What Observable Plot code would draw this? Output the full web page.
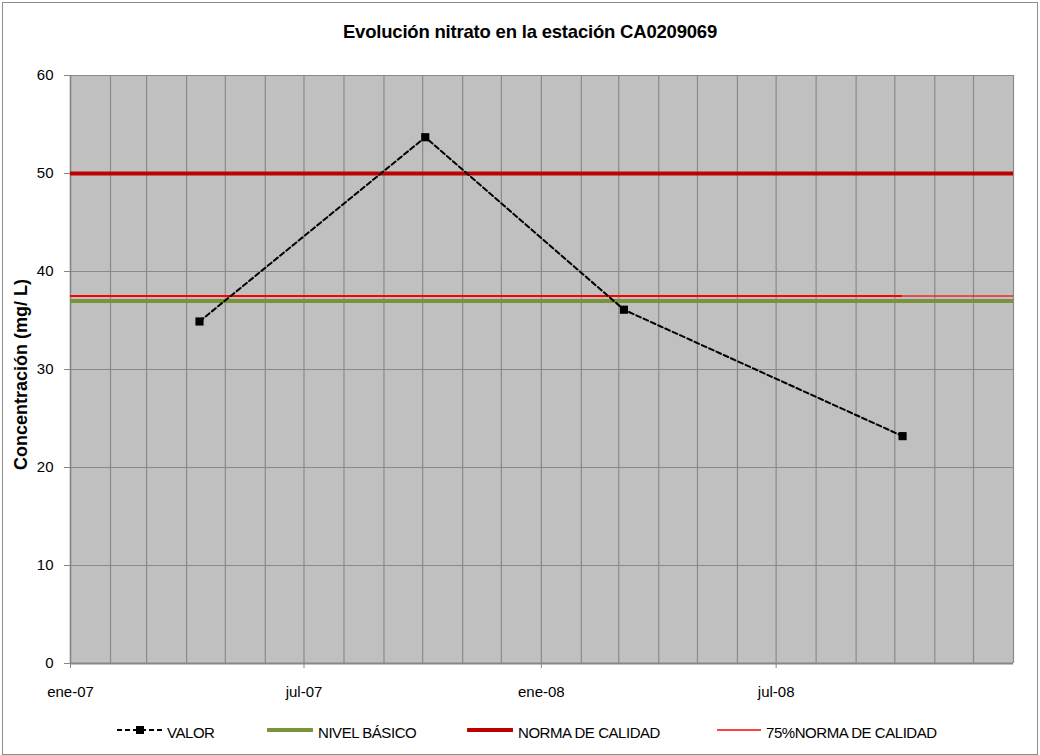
<!DOCTYPE html>
<html><head><meta charset="utf-8">
<script src="https://cdn.jsdelivr.net/npm/d3@7"></script>
<script src="https://cdn.jsdelivr.net/npm/@observablehq/plot@0.6"></script>
<style>
body{margin:0;background:#fff;font-family:"Liberation Sans",Arial,sans-serif;}
#wrap{position:relative;width:1040px;height:755px;overflow:hidden;}
#border{position:absolute;left:2px;top:2px;width:1036px;height:753px;border:1px solid #8c8c8c;box-sizing:border-box;}
#chart{position:absolute;left:0;top:0;}
#title{position:absolute;left:0;top:22px;width:1060px;text-align:center;font-weight:bold;font-size:18.5px;line-height:20px;letter-spacing:-0.2px;}
.leg{position:absolute;top:725px;font-size:15px;letter-spacing:-0.45px;white-space:nowrap;line-height:16px;}
.sw{position:absolute;top:722px;}
</style>
</head><body>
<div id="wrap">
<div id="chart"></div>
<div id="border"></div>
<div id="title"></div>
<div id="legend"></div>
</div>
<script>
// ---- data ----
const fechas = ["2007-04-11","2007-10-03","2008-03-05","2008-10-07"];
const valores = [34.9, 53.7, 36.1, 23.2];
const nivelBasico = 37;
const normaCalidad = 50;
const norma75 = 37.5;
const yTicks = [0,10,20,30,40,50,60];
const xTickFechas = ["2007-01-01","2007-07-01","2008-01-01","2008-07-01"];
const xTickLabels = ["ene-07","jul-07","ene-08","jul-08"];
const xDomain = ["2007-01-01","2009-01-01"];
const titulo = "Evolución nitrato en la estación CA0209069";
const yLabel = "Concentración (mg/ L)";
const series = ["VALOR","NIVEL BÁSICO","NORMA DE CALIDAD","75%NORMA DE CALIDAD"];

const parse = s => new Date(s + "T00:00:00Z");
const data = fechas.map((f,i) => ({fecha: parse(f), valor: valores[i]}));
const x0 = parse(xDomain[0]), x1 = parse(xDomain[1]);
const months = d3.utcMonth.range(x0, d3.utcMonth.offset(x1,1));
const tickDates = xTickFechas.map(parse);
const lastDate = data[data.length-1].fecha;

const grid = "#8a8a8a";
const plot = Plot.plot({
  width: 1040, height: 755,
  marginLeft: 70, marginRight: 27, marginTop: 75, marginBottom: 92,
  style: {fontFamily: "'Liberation Sans', Arial, sans-serif", fontSize: "15px", color: "#000", background: "transparent", overflow: "visible"},
  x: {type: "utc", domain: [x0, x1]},
  y: {domain: [0, 60]},
  marks: [
    Plot.frame({fill: "#c0c0c0", stroke: null}),
    Plot.ruleX(months, {stroke: grid, strokeWidth: 1.2}),
    Plot.ruleY(yTicks, {stroke: grid, strokeWidth: 1.2}),
    Plot.ruleX([x0], {stroke: "#868686", strokeWidth: 1.5}),
    Plot.ruleY([0], {stroke: "#868686", strokeWidth: 2}),
    Plot.axisY({ticks: yTicks, tickSize: 6, tickPadding: 11, stroke: "#868686", label: null, fontSize: 15}),
    Plot.axisX({ticks: tickDates, tickSize: 5, tickPadding: 18, stroke: "#868686", label: null, fontSize: 15,
      tickFormat: d => xTickLabels[tickDates.findIndex(t => +t === +d)]}),
    Plot.ruleY([nivelBasico], {x1: x0, x2: x1, stroke: "#77933c", strokeWidth: 4}),
    Plot.ruleY([norma75], {x1: x0, x2: lastDate, stroke: "#ff0000", strokeWidth: 2}),
    Plot.ruleY([norma75], {x1: lastDate, x2: x1, stroke: "#ff0000", strokeOpacity: 0.6, strokeWidth: 2}),
    Plot.ruleY([normaCalidad], {x1: x0, x2: x1, stroke: "#c00000", strokeWidth: 4}),
    Plot.line(data, {x: "fecha", y: "valor", stroke: "#000", strokeWidth: 2, strokeDasharray: "5,3"}),
    Plot.dot(data, {x: "fecha", y: "valor", symbol: "square", r: 4.6, fill: "#000", stroke: null}),
    Plot.text([yLabel], {frameAnchor: "left", dx: -49, dy: 5, rotate: -90, textAnchor: "middle", fontWeight: "bold", fontSize: 18, letterSpacing: -0.3, text: d => d})
  ]
});
document.getElementById("chart").appendChild(plot);
document.getElementById("title").textContent = titulo;

// legend
const leg = document.getElementById("legend");
const items = [
  {sx: 117, sw: 46, tx: 167, html: '<line x1="0" y1="8" x2="46" y2="8" stroke="#000" stroke-width="2" stroke-dasharray="5,3"/><rect x="19" y="4" width="8" height="8" fill="#000"/>'},
  {sx: 267, sw: 46, tx: 318, html: '<line x1="1" y1="8" x2="45" y2="8" stroke="#77933c" stroke-width="4" stroke-linecap="round"/>'},
  {sx: 467, sw: 46, tx: 518, html: '<line x1="1" y1="8" x2="45" y2="8" stroke="#c00000" stroke-width="4" stroke-linecap="round"/>'},
  {sx: 717, sw: 44, tx: 766, html: '<line x1="0" y1="8" x2="44" y2="8" stroke="#ff0000" stroke-width="1.5"/>'}
];
items.forEach((it, i) => {
  const s = document.createElement("div");
  s.className = "sw"; s.style.left = it.sx + "px";
  s.innerHTML = `<svg width="${it.sw}" height="16">${it.html}</svg>`;
  leg.appendChild(s);
  const t = document.createElement("div");
  t.className = "leg"; t.style.left = it.tx + "px";
  t.textContent = series[i];
  leg.appendChild(t);
});
</script>
</body></html>
